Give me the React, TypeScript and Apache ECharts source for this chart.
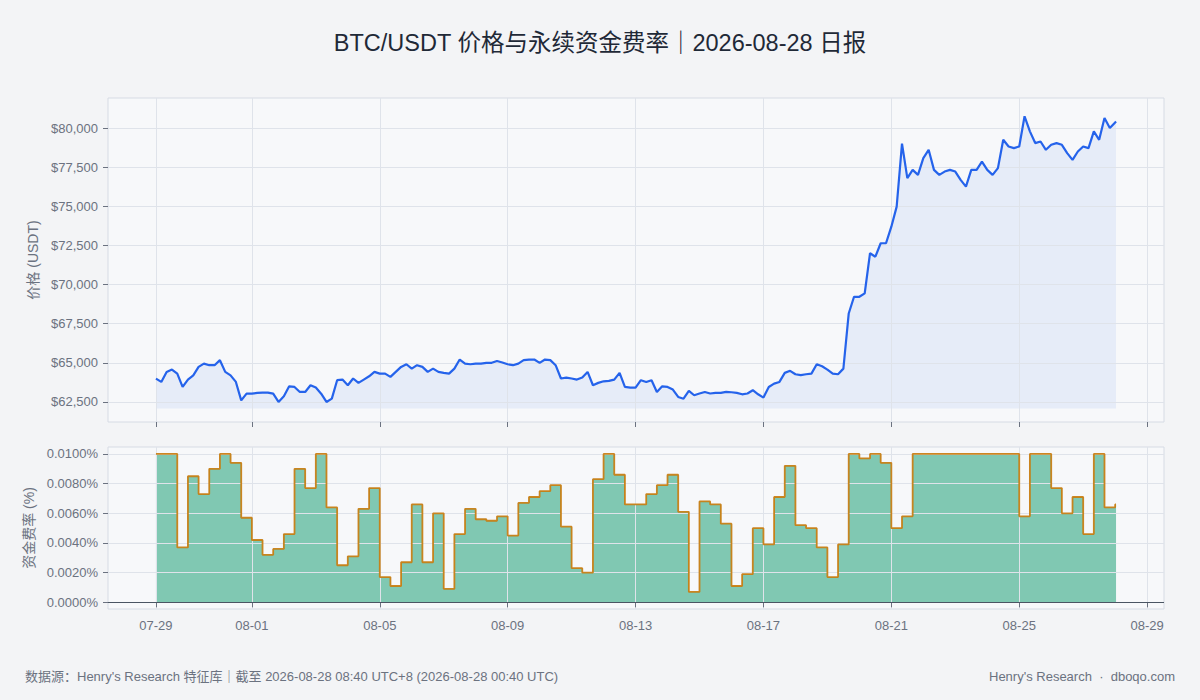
import React, { useEffect, useRef } from 'react'
import * as echarts from 'echarts'

const HOUR = 3600 * 1000
const DAY = 24 * HOUR
const START = Date.UTC(2026, 6, 29) // 07-29 00:00 UTC
const END = Date.UTC(2026, 7, 28, 0, 40) // 08-28 00:40 UTC

// BTC/USDT price, one value every 4 hours from 07-29 00:00 UTC
const priceStepHours = 4
const priceValues = [
  63990, 63780, 64420, 64570, 64310, 63460,
  63930, 64200, 64740, 64950, 64850, 64850,
  65170, 64420, 64200, 63780, 62600, 63030,
  63030, 63080, 63100, 63100, 63030, 62500,
  62860, 63500, 63460, 63140, 63140, 63570,
  63420, 63030, 62500, 62710, 63890, 63930,
  63570, 64000, 63720, 63930, 64140, 64420,
  64310, 64310, 64100, 64420, 64740, 64910,
  64630, 64850, 64740, 64420, 64630, 64420,
  64360, 64310, 64630, 65210, 64950, 64910,
  64950, 64950, 65000, 65000, 65120, 65020,
  64910, 64850, 64950, 65170, 65210, 65210,
  65000, 65210, 65170, 64850, 64000, 64060,
  64000, 63930, 64060, 64420, 63570, 63720,
  63820, 63850, 63930, 64360, 63460, 63420,
  63420, 63890, 63780, 63890, 63140, 63500,
  63460, 63290, 62820, 62710, 63210, 62930,
  63040, 63140, 63040, 63080, 63080, 63140,
  63120, 63080, 62990, 63040, 63250, 62990,
  62780, 63460, 63670, 63780, 64360, 64490,
  64270, 64210, 64270, 64310, 64910, 64780,
  64570, 64310, 64270, 64630, 68150, 69220,
  69220, 69440, 72000, 71780, 72640, 72640,
  73700, 74980, 79000, 76800, 77330, 77010,
  78080, 78610, 77330, 77010, 77220, 77330,
  77220, 76690, 76260, 77330, 77330, 77860,
  77330, 77010, 77440, 79250, 78820, 78720,
  78820, 80750, 79790, 79040, 79140, 78610,
  78930, 79040, 78930, 78400, 77970, 78500,
  78820, 78720, 79790, 79250, 80640, 80000,
  80360
]
const lastPrice = 80420
const priceFloor = 62080

// perpetual funding rate (%), one value per 8h settlement
const fundingStepHours = 8
const fundingValues = [
  0.0100, 0.0100, 0.0037, 0.0085, 0.0073, 0.0090, 0.0100, 0.0094, 0.0057, 0.0042,
  0.0032, 0.0036, 0.0046, 0.0090, 0.0077, 0.0100, 0.0064, 0.0025, 0.0031, 0.0063,
  0.0077, 0.0017, 0.0011, 0.0027, 0.0066, 0.0027, 0.0060, 0.0009, 0.0046, 0.0063,
  0.0056, 0.0055, 0.0058, 0.0045, 0.0067, 0.0071, 0.0075, 0.0079, 0.0051, 0.0023,
  0.0020, 0.0083, 0.0100, 0.0086, 0.0066, 0.0066, 0.0073, 0.0079, 0.0086, 0.0061,
  0.0007, 0.0068, 0.0066, 0.0053, 0.0011, 0.0019, 0.0050, 0.0039, 0.0071, 0.0092,
  0.0052, 0.0050, 0.0037, 0.0017, 0.0039, 0.0100, 0.0097, 0.0100, 0.0094, 0.0050,
  0.0058, 0.0100, 0.0100, 0.0100, 0.0100, 0.0100, 0.0100, 0.0100, 0.0100, 0.0100,
  0.0100, 0.0058, 0.0100, 0.0100, 0.0077, 0.0060, 0.0071, 0.0046, 0.0100, 0.0064,
  0.0066
]

const dayTicks = [
  '2026-07-29', '2026-08-01', '2026-08-05', '2026-08-09', '2026-08-13',
  '2026-08-17', '2026-08-21', '2026-08-25', '2026-08-29'
]
const priceTicks = [62500, 65000, 67500, 70000, 72500, 75000, 77500, 80000]
const fundingTicks = [0, 0.002, 0.004, 0.006, 0.008, 0.01]

const FONT = "'Liberation Sans', 'Noto Sans CJK SC', sans-serif"
const TEXT = '#6b7280'
const GRID_LINE = '#dfe3ea'

const fmtDay = (v: number) => {
  const d = new Date(v)
  return String(d.getUTCMonth() + 1).padStart(2, '0') + '-' + String(d.getUTCDate()).padStart(2, '0')
}

const App: React.FC = () => {
  const chartRef = useRef<HTMLDivElement>(null)

  useEffect(() => {
    if (!chartRef.current) return
    const chart = echarts.init(chartRef.current, null, { renderer: 'svg' })

    const xTickValues = dayTicks.map(d => Date.parse(d + 'T00:00:00Z'))
    const xMin = START - 1.5 * DAY
    const xMax = END + 1.5 * DAY

    const priceData = priceValues.map((v, i) => [START + i * priceStepHours * HOUR, v])
    priceData.push([END, lastPrice])
    const fundingData = fundingValues.map((v, i) => [START + i * fundingStepHours * HOUR, v])
    fundingData.push([END, fundingValues[fundingValues.length - 1]])

    const labelStyle = { color: TEXT, fontSize: 13, fontFamily: FONT }

    const xAxisBase = (gridIndex: number, showLabel: boolean) => ({
      type: 'value',
      gridIndex,
      min: xMin,
      max: xMax,
      z: 3,
      axisLine: { show: false },
      axisTick: { show: true, length: 5, customValues: xTickValues, lineStyle: { color: TEXT } },
      axisLabel: { show: showLabel, customValues: xTickValues, formatter: fmtDay, margin: 10, ...labelStyle },
      splitLine: { show: true, lineStyle: { color: GRID_LINE, width: 1 } }
    })

    const option: any = {
      animation: false,
      backgroundColor: '#f3f4f6',
      title: {
        text: 'BTC/USDT 价格与永续资金费率｜2026-08-28 日报',
        left: 'center',
        top: 26,
        textStyle: { color: '#1f2937', fontSize: 23.5, fontWeight: 'normal', fontFamily: FONT }
      },
      grid: [
        { left: 108, top: 98, width: 1056, height: 324, show: true, backgroundColor: '#f7f8fa', borderColor: '#d6dbe4', borderWidth: 1 },
        { left: 108, top: 447, width: 1056, height: 162, show: true, backgroundColor: '#f7f8fa', borderColor: '#d6dbe4', borderWidth: 1 }
      ],
      xAxis: [xAxisBase(0, false), xAxisBase(1, true)],
      yAxis: [
        {
          type: 'value',
          gridIndex: 0,
          min: 61220,
          max: 81920,
          z: 3,
          name: '价格 (USDT)',
          nameLocation: 'middle',
          nameGap: 66,
          nameTextStyle: { color: TEXT, fontSize: 14, fontFamily: FONT },
          axisLine: { show: false },
          axisTick: { show: true, length: 5, customValues: priceTicks, lineStyle: { color: TEXT } },
          axisLabel: {
            customValues: priceTicks,
            margin: 10,
            formatter: (v: number) => '$' + v.toLocaleString('en-US'),
            ...labelStyle
          },
          splitLine: { show: true, lineStyle: { color: GRID_LINE, width: 1 } }
        },
        {
          type: 'value',
          gridIndex: 1,
          min: -0.00045,
          max: 0.01047,
          z: 3,
          name: '资金费率 (%)',
          nameLocation: 'middle',
          nameGap: 66,
          nameTextStyle: { color: TEXT, fontSize: 14, fontFamily: FONT },
          axisLine: { show: false },
          axisTick: { show: true, length: 5, customValues: fundingTicks, lineStyle: { color: TEXT } },
          axisLabel: {
            customValues: fundingTicks,
            margin: 10,
            formatter: (v: number) => v.toFixed(4) + '%',
            ...labelStyle
          },
          splitLine: { show: true, lineStyle: { color: GRID_LINE, width: 1 } }
        }
      ],
      series: [
        {
          name: 'price-area',
          type: 'line',
          xAxisIndex: 0,
          yAxisIndex: 0,
          data: priceData,
          showSymbol: false,
          z: 1,
          lineStyle: { width: 0 },
          areaStyle: { color: 'rgba(37,99,235,0.08)', opacity: 1, origin: priceFloor },
          silent: true
        },
        {
          name: '价格',
          type: 'line',
          xAxisIndex: 0,
          yAxisIndex: 0,
          data: priceData,
          showSymbol: false,
          z: 4,
          lineStyle: { color: '#2563eb', width: 2.2 }
        },
        {
          name: 'funding-area',
          type: 'line',
          xAxisIndex: 1,
          yAxisIndex: 1,
          data: fundingData,
          step: 'end',
          showSymbol: false,
          z: 1,
          lineStyle: { width: 0 },
          areaStyle: { color: 'rgba(5,150,105,0.49)', opacity: 1, origin: 0 },
          silent: true
        },
        {
          name: '资金费率',
          type: 'line',
          xAxisIndex: 1,
          yAxisIndex: 1,
          data: fundingData,
          step: 'end',
          showSymbol: false,
          z: 4,
          lineStyle: { color: 'rgba(200,124,14,0.92)', width: 1.8 },
          markLine: {
            silent: true,
            symbol: 'none',
            label: { show: false },
            lineStyle: { color: '#4b5563', width: 1.2, type: 'solid' },
            data: [{ yAxis: 0 }]
          }
        }
      ],
      graphic: [
        {
          type: 'text',
          left: 25,
          top: 670,
          style: {
            text: '数据源：Henry\'s Research 特征库｜截至 2026-08-28 08:40 UTC+8 (2026-08-28 00:40 UTC)',
            fill: TEXT,
            fontSize: 13,
            fontFamily: FONT
          }
        },
        {
          type: 'text',
          right: 25,
          top: 670,
          style: {
            text: 'Henry\'s Research  ·  dboqo.com',
            fill: TEXT,
            fontSize: 13,
            fontFamily: FONT
          }
        }
      ]
    }

    chart.setOption(option)
    return () => {
      chart.dispose()
    }
  }, [])

  return (
    <div
      ref={chartRef}
      style={{ position: 'absolute', left: 0, top: 0, width: '1200px', height: '700px', background: '#f3f4f6' }}
    />
  )
}

export default App
